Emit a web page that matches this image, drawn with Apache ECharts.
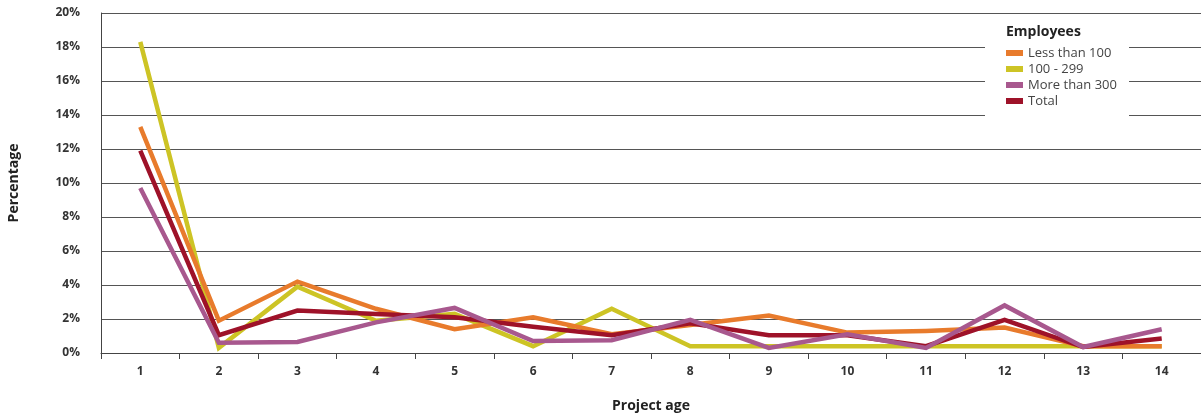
<!DOCTYPE html>
<html>
<head>
<meta charset="utf-8">
<script src="https://cdn.jsdelivr.net/npm/echarts@6/dist/echarts.min.js"></script>
<style>
html,body{margin:0;padding:0;background:#fff;}
#chart{width:1201px;height:419px;}
</style>
</head>
<body>
<div id="chart"></div>
<script>
const categories = ['1','2','3','4','5','6','7','8','9','10','11','12','13','14'];
const lessThan100 = [13.3, 1.9, 4.2, 2.6, 1.4, 2.1, 1.1, 1.65, 2.2, 1.2, 1.3, 1.5, 0.4, 0.4];
const from100to299 = [18.3, 0.3, 3.9, 1.9, 2.3, 0.4, 2.6, 0.4, 0.4, 0.4, 0.4, 0.4, 0.4, 0.4];
const moreThan300 = [9.7, 0.6, 0.65, 1.8, 2.65, 0.7, 0.75, 1.95, 0.3, 1.1, 0.3, 2.8, 0.35, 1.4];
const total = [11.9, 1.05, 2.5, 2.3, 2.1, 1.55, 1.05, 1.75, 1.05, 1.05, 0.4, 1.95, 0.35, 0.85];
const seriesNames = ['Less than 100', '100 - 299', 'More than 300', 'Total'];
const yTicks = [0, 2, 4, 6, 8, 10, 12, 14, 16, 18, 20];

const FONT = '"Open Sans", "DejaVu Sans", sans-serif';
const colors = {
  'Less than 100': '#E87B2C',
  '100 - 299': '#CDC425',
  'More than 300': '#A8588E',
  'Total': '#9E1229'
};
const chart = echarts.init(document.getElementById('chart'));
function mk(name, data, z) {
  return {
    name: name, type: 'line', data: data, symbol: 'none', z: z,
    lineStyle: { width: 4.5, color: colors[name], cap: 'butt', join: 'miter' },
    itemStyle: { color: colors[name] },
    animation: false
  };
}
chart.setOption({
  animation: false,
  textStyle: { fontFamily: FONT },
  grid: { left: 101, right: 0, top: 13, bottom: 66, containLabel: false, outerBoundsMode: 'none' },
  title: {
    text: 'Employees', left: 1001, top: 20,
    textStyle: { fontFamily: FONT, fontSize: 14, fontWeight: 'bold', color: '#222' },
    z: 8
  },
  graphic: [{
    type: 'rect', left: 985, top: 15, z: 3,
    shape: { width: 144, height: 106 },
    style: { fill: '#fff' }
  }],
  legend: {
    data: seriesNames,
    orient: 'vertical', left: 1001, top: 41,
    icon: 'rect', itemWidth: 17, itemHeight: 6, itemGap: 2,
    textStyle: { fontFamily: FONT, fontSize: 13, color: '#444', lineHeight: 14 },
    z: 8
  },
  xAxis: {
    type: 'category', data: categories, boundaryGap: true,
    name: 'Project age', nameLocation: 'middle', nameGap: 46,
    nameTextStyle: { fontFamily: FONT, fontSize: 14, fontWeight: 'bold', color: '#222' },
    axisLine: { lineStyle: { color: '#444', width: 1 } },
    axisTick: { show: true, interval: 0, length: 6, lineStyle: { color: '#444' } },
    axisLabel: { margin: 13, fontFamily: FONT, fontSize: 12, fontWeight: 'bold', color: '#333' },
    splitLine: { show: false }
  },
  yAxis: {
    type: 'value', min: yTicks[0], max: yTicks[yTicks.length - 1], interval: 2,
    name: 'Percentage', nameLocation: 'middle', nameGap: 80, nameRotate: 90,
    nameTextStyle: { fontFamily: FONT, fontSize: 14, fontWeight: 'bold', color: '#222' },
    axisLine: { show: true, lineStyle: { color: '#444', width: 1 } },
    axisTick: { show: false },
    axisLabel: { margin: 21, padding: [4, 0, 0, 0], formatter: '{value}%', fontFamily: FONT, fontSize: 12, fontWeight: 'bold', color: '#333' },
    splitLine: { show: true, lineStyle: { color: '#555', width: 1 } }
  },
  series: [
    mk('100 - 299', from100to299, 2),
    mk('Less than 100', lessThan100, 3),
    mk('Total', total, 4),
    mk('More than 300', moreThan300, 5)
  ]
});
</script>
</body>
</html>
